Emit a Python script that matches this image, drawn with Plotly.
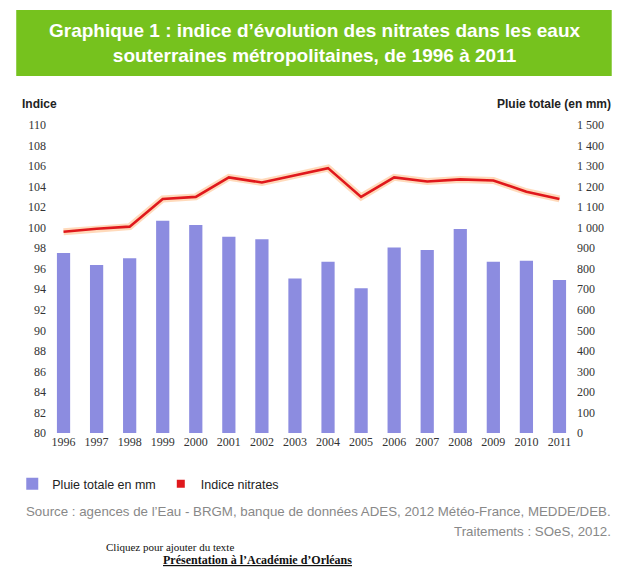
import plotly.graph_objects as go

years = [str(y) for y in range(1996, 2012)]
pluie_mm = [877, 818, 851, 1034, 1013, 956, 943, 753, 834, 705, 903, 891, 994, 834, 839, 745]
indice_nitrates = [99.6, 99.9, 100.1, 102.8, 103.0, 104.9, 104.4, 105.1, 105.8, 103.0, 104.9, 104.5, 104.7, 104.6, 103.5, 102.8]

left_ticks = list(range(80, 111, 2))
right_ticks = list(range(0, 1501, 100))
right_labels = [f"{v:,}".replace(",", " ") for v in right_ticks]

FONT = "Liberation Sans, Arial, sans-serif"
SERIF = "Liberation Serif, DejaVu Serif, serif"
BAR = "#8c8ce0"
RED = "#e0181c"
GREEN = "#76c21e"

fig = go.Figure()
fig.add_trace(go.Bar(x=years, y=pluie_mm, yaxis="y", marker=dict(color=BAR, line=dict(width=0)),
                     name="Pluie totale en mm", showlegend=True))
fig.add_trace(go.Scatter(x=years, y=indice_nitrates, yaxis="y2", mode="lines",
                         line=dict(color="rgba(255,150,60,0.35)", width=7), showlegend=False, hoverinfo="skip"))
fig.add_trace(go.Scatter(x=years, y=indice_nitrates, yaxis="y2", mode="lines",
                         line=dict(color=RED, width=2.6), showlegend=False, name="Indice nitrates"))
fig.add_trace(go.Scatter(x=[None], y=[None], yaxis="y2", mode="markers",
                         marker=dict(symbol="square", color=RED, size=8), name="Indice nitrates"))

W, H = 620, 574
L, R, T, B = 43, 576, 125, 433
pw, ph = R - L, B - T

def px(x):
    return (x - L) / pw

def py(y):
    return (B - y) / ph

fig.update_layout(
    width=W, height=H,
    margin=dict(l=L, r=W - R, t=T, b=H - B),
    paper_bgcolor="white", plot_bgcolor="white",
    font=dict(family=FONT, size=12, color="#222"),
    bargap=0.6,
    xaxis=dict(type="category", showgrid=False, showline=False, ticks="",
               tickfont=dict(family=SERIF, size=12, color="#333"), ticklen=0),
    yaxis=dict(side="right", range=[0, 1500], tickvals=right_ticks, ticktext=right_labels,
               showgrid=False, zeroline=False, showline=False, ticks="",
               tickfont=dict(family=SERIF, size=12, color="#333")),
    yaxis2=dict(side="left", overlaying="y", range=[80, 110], tickvals=left_ticks,
                showgrid=False, zeroline=False, showline=False, ticks="",
                tickfont=dict(family=SERIF, size=12, color="#333")),
    legend=dict(orientation="h", x=px(8), y=py(469), xanchor="left", yanchor="top",
                font=dict(family=FONT, size=12.5, color="#222"), bgcolor="rgba(0,0,0,0)",
                itemwidth=30, tracegroupgap=0),
    shapes=[dict(type="rect", xref="paper", yref="paper", x0=px(12), x1=px(612), y0=py(76), y1=py(10),
                 fillcolor=GREEN, line=dict(width=0), layer="below")],
    annotations=[
        dict(text="<b>Graphique 1 : indice d’évolution des nitrates dans les eaux<br>souterraines métropolitaines, de 1996 à 2011</b>",
             xref="paper", yref="paper", x=px(313), y=py(43), xanchor="center", yanchor="middle",
             showarrow=False, font=dict(family=FONT, size=19, color="white"), align="center"),
        dict(text="<b>Indice</b>", xref="paper", yref="paper", x=px(16), y=py(104), xanchor="left", yanchor="middle",
             showarrow=False, font=dict(family=FONT, size=12, color="#222")),
        dict(text="<b>Pluie totale (en mm)</b>", xref="paper", yref="paper", x=px(613), y=py(104), xanchor="right",
             yanchor="middle", showarrow=False, font=dict(family=FONT, size=12, color="#222")),
        dict(text="Source : agences de l’Eau - BRGM, banque de données ADES, 2012 Météo-France, MEDDE/DEB.",
             xref="paper", yref="paper", x=px(613), y=py(511), xanchor="right", yanchor="middle",
             showarrow=False, font=dict(family=FONT, size=13.3, color="#888")),
        dict(text="Traitements : SOeS, 2012.", xref="paper", yref="paper", x=px(613), y=py(531), xanchor="right",
             yanchor="middle", showarrow=False, font=dict(family=FONT, size=13.3, color="#888")),
        dict(text="Cliquez pour ajouter du texte", xref="paper", yref="paper", x=px(100), y=py(547), xanchor="left",
             yanchor="middle", showarrow=False, font=dict(family=SERIF, size=11, color="#111")),
        dict(text="<b><u>Présentation à l’Académie d’Orléans</u></b>", xref="paper", yref="paper", x=px(255), y=py(560),
             xanchor="center", yanchor="middle", showarrow=False,
             font=dict(family=SERIF, size=12, color="#111")),
    ],
)

fig.write_html("out.html", config={"displayModeBar": False},
               post_script="document.body.style.margin='0';document.body.style.padding='0';")
